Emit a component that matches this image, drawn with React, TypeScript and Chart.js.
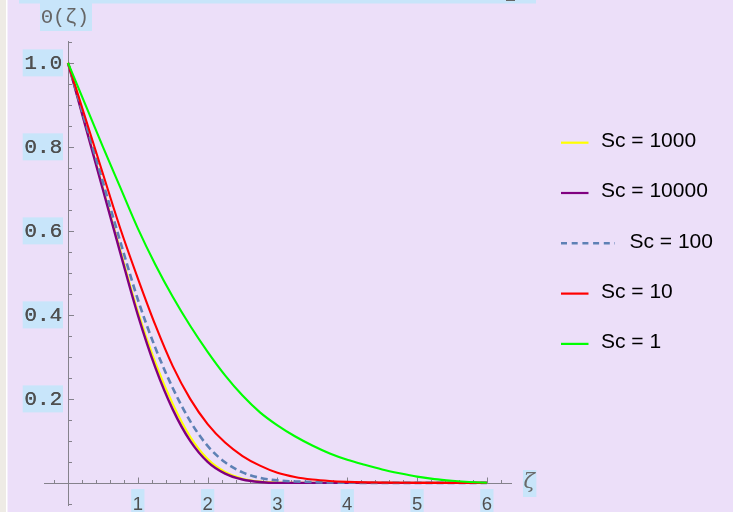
import React, { useEffect, useRef } from "react";
import { Chart, registerables } from "chart.js";
Chart.register(...registerables);

// ---- data ----
const zeta = [0, 0.25, 0.5, 0.75, 1, 1.25, 1.5, 1.75, 2, 2.25, 2.5, 2.75, 3, 3.25, 3.5, 3.75, 4, 4.25, 4.5, 4.75, 5, 5.25, 5.5, 5.75, 6];
const sc1000 = [1, 0.851, 0.702, 0.553, 0.408, 0.287, 0.188, 0.11, 0.057, 0.026, 0.01, 0.003, 0.001, 0, 0, 0, 0, 0, 0, 0, 0, 0, 0, 0, 0];
const sc10000 = [1, 0.849, 0.698, 0.547, 0.4, 0.275, 0.175, 0.1, 0.05, 0.022, 0.008, 0.002, 0, 0, 0, 0, 0, 0, 0, 0, 0, 0, 0, 0, 0];
const sc100 = [1, 0.858, 0.716, 0.574, 0.437, 0.322, 0.226, 0.147, 0.088, 0.049, 0.025, 0.012, 0.006, 0.0035, 0.002, 0.001, 0.0005, 0, 0, 0, 0, 0, 0, 0, 0];
const sc10 = [1, 0.868, 0.736, 0.605, 0.487, 0.376, 0.278, 0.2, 0.14, 0.096, 0.064, 0.041, 0.024, 0.014, 0.008, 0.0045, 0.0025, 0.0013, 0.0007, 0.0003, 0, 0, 0, 0, 0];
const sc1 = [1, 0.9, 0.8, 0.703, 0.606, 0.52, 0.443, 0.374, 0.312, 0.256, 0.208, 0.168, 0.137, 0.111, 0.089, 0.07, 0.055, 0.043, 0.032, 0.023, 0.015, 0.009, 0.005, 0.002, 0.0005];

const seriesLabels = ["Sc = 1000", "Sc = 10000", "Sc = 100", "Sc = 10", "Sc = 1"];
const seriesColors = ["#ffff00", "#800080", "#5e81b5", "#ff0000", "#00ff00"];
const yTickValues = [0.2, 0.4, 0.6, 0.8, 1.0];
const yTickLabels = ["0.2", "0.4", "0.6", "0.8", "1.0"];
const xTickValues = [1, 2, 3, 4, 5, 6];
const xTickLabels = ["1", "2", "3", "4", "5", "6"];
const yAxisTitle = "Θ(ζ)";
const xAxisTitle = "ζ";

const BG = "#ecdff9";
const LABEL_BG = "#c8e5fa";
const AXIS = "#85828c";
const TEXT = "#4f4f4f";

const pts = (ys: number[]) => zeta.map((x, i) => ({ x, y: ys[i] }));

const decor = {
  id: "decor",
  beforeDraw(chart: any) {
    const ctx = chart.ctx;
    ctx.save();
    ctx.fillStyle = BG;
    ctx.fillRect(0, 0, chart.width, chart.height);
    ctx.fillStyle = "#eeebe5";
    ctx.fillRect(0, 0, 6, chart.height);
    ctx.fillStyle = "#ffffff";
    ctx.fillRect(6, 0, 1.5, chart.height);
    ctx.fillStyle = LABEL_BG;
    ctx.fillRect(19, 0, 517, 3.5);
    ctx.fillStyle = "#666";
    ctx.fillRect(506, 0, 9, 1);
    ctx.restore();
  },
  beforeDatasetsDraw(chart: any) {
    const ctx = chart.ctx;
    const xs = chart.scales.x;
    const ys = chart.scales.y;
    const x0 = Math.round(xs.getPixelForValue(0)) + 0.5;
    const y0 = Math.round(ys.getPixelForValue(0)) + 0.5;
    ctx.save();
    ctx.strokeStyle = AXIS;
    ctx.lineWidth = 1;
    ctx.beginPath();
    ctx.moveTo(chart.chartArea.left, y0);
    ctx.lineTo(chart.chartArea.right, y0);
    ctx.moveTo(x0, chart.chartArea.top);
    ctx.lineTo(x0, chart.chartArea.bottom);
    ctx.stroke();
    ctx.beginPath();
    for (let k = -1; k <= 31; k++) {
      if (k === 0) continue;
      const px = Math.round(xs.getPixelForValue(k * 0.2)) + 0.5;
      const len = k % 5 === 0 ? 6 : 3.5;
      ctx.moveTo(px, y0);
      ctx.lineTo(px, y0 - len);
    }
    for (let k = -1; k <= 21; k++) {
      if (k === 0) continue;
      const py = Math.round(ys.getPixelForValue(k * 0.05)) + 0.5;
      const len = k % 4 === 0 ? 5.5 : 3.5;
      ctx.moveTo(x0, py);
      ctx.lineTo(x0 + len, py);
    }
    ctx.stroke();
    ctx.restore();
  },
  afterDraw(chart: any) {
    const ctx = chart.ctx;
    const xs = chart.scales.x;
    const ys = chart.scales.y;
    ctx.save();
    ctx.font = "21px 'Liberation Mono', monospace";
    ctx.textBaseline = "middle";
    ctx.textAlign = "right";
    yTickValues.forEach((v, i) => {
      const py = ys.getPixelForValue(v);
      const w = ctx.measureText(yTickLabels[i]).width;
      ctx.fillStyle = LABEL_BG;
      ctx.fillRect(62.5 - w - 2, py - 13.5, w + 2.5, 27);
      ctx.fillStyle = TEXT;
      ctx.fillText(yTickLabels[i], 62, py + 1);
      ctx.fillText(yTickLabels[i], 62.4, py + 1);
    });
    ctx.font = "18.5px 'Liberation Sans', Arial, sans-serif";
    ctx.textAlign = "center";
    ctx.textBaseline = "alphabetic";
    xTickValues.forEach((v, i) => {
      const px = xs.getPixelForValue(v);
      const w = ctx.measureText(xTickLabels[i]).width;
      ctx.fillStyle = LABEL_BG;
      ctx.fillRect(px - w / 2 - 1.5, 489, w + 3, 27);
      ctx.fillStyle = TEXT;
      ctx.fillText(xTickLabels[i], px, 510);
    });
    ctx.font = "20px 'Liberation Mono', 'DejaVu Sans Mono', monospace";
    ctx.textAlign = "left";
    ctx.textBaseline = "middle";
    const tw = ctx.measureText(yAxisTitle).width;
    ctx.fillStyle = LABEL_BG;
    ctx.fillRect(40, 3, tw + 4, 28);
    ctx.fillStyle = "#666";
    ctx.fillText(yAxisTitle, 41, 18);
    ctx.font = "italic 21px 'DejaVu Serif', serif";
    const zw = ctx.measureText(xAxisTitle).width;
    ctx.fillStyle = LABEL_BG;
    ctx.fillRect(523, 470, Math.max(13, zw + 2), 27);
    ctx.fillStyle = "#6a6a6a";
    ctx.fillText(xAxisTitle, 523.5, 483);
    ctx.font = "21px 'Liberation Sans', Arial, sans-serif";
    ctx.textBaseline = "middle";
    seriesLabels.forEach((lab, i) => {
      const ly = 142.7 + i * 50.3;
      const dashed = i === 2;
      ctx.strokeStyle = seriesColors[i];
      ctx.lineWidth = dashed ? 2.4 : 2.2;
      ctx.setLineDash(dashed ? [6, 4.7] : []);
      ctx.beginPath();
      ctx.moveTo(561, ly);
      ctx.lineTo(dashed ? 615 : 588.5, ly);
      ctx.stroke();
      ctx.setLineDash([]);
      ctx.fillStyle = "#000";
      ctx.fillText(lab, dashed ? 629.5 : 601, ly - 1.5);
    });
    ctx.restore();
  },
};

export default function App() {
  const ref = useRef<HTMLCanvasElement | null>(null);
  useEffect(() => {
    document.body.style.margin = "0";
    const canvas = ref.current!;
    const all = [sc1000, sc10000, sc100, sc10, sc1];
    const chart = new Chart(canvas, {
      type: "scatter",
      data: {
        datasets: all.map((ys, i) => ({
          label: seriesLabels[i],
          data: pts(ys),
          showLine: true,
          borderColor: seriesColors[i],
          backgroundColor: seriesColors[i],
          borderWidth: i === 1 ? 2.4 : i === 2 ? 2.6 : 2.1,
          borderDash: i === 2 ? [7, 4] : [],
          pointRadius: 0,
          cubicInterpolationMode: "monotone",
          order: 5 - i,
        })),
      },
      options: {
        animation: false,
        responsive: false,
        devicePixelRatio: 1,
        layout: { padding: { left: 44, right: 221, top: 41, bottom: 6 } },
        plugins: { legend: { display: false }, tooltip: { enabled: false } },
        scales: {
          x: { type: "linear", min: -0.344, max: 6.36, display: false },
          y: { type: "linear", min: -0.055, max: 1.052, display: false },
        },
      },
      plugins: [decor],
    } as any);
    return () => chart.destroy();
  }, []);
  return <canvas ref={ref} width={733} height={512} style={{ display: "block", width: 733, height: 512 }} />;
}
